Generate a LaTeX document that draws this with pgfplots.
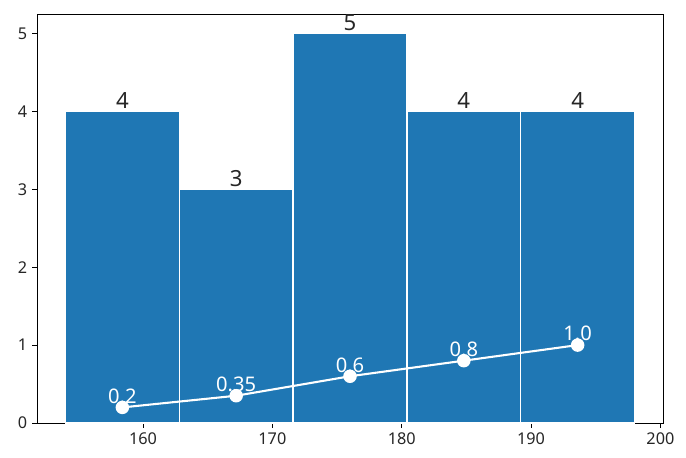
\documentclass[border=0pt]{standalone}
\usepackage{fontspec}
\setmainfont{Noto Sans}
\usepackage{pgfplots}
\pgfplotsset{compat=1.18}
\usetikzlibrary{calc}
\definecolor{mplblue}{HTML}{1F77B4}
\begin{document}
\begin{tikzpicture}
\begin{axis}[
  width=450.72pt, height=294.48pt, scale only axis,
  xmin=151.8, xmax=200.2, ymin=0, ymax=5.25,
  xtick={160,170,180,190,200}, ytick={0,1,2,3,4,5},
  tick align=outside, tick pos=left,
  major tick length=3.5pt,
  every tick/.style={black, line width=0.6pt},
  axis line style={black, line width=0.6pt},
  /pgf/number format/assume math mode=true,
  ticklabel style={font=\fontsize{11.7}{13}\selectfont, text=black!85},
  clip=false,
]
\addplot[ybar interval, fill=mplblue, draw=white, line width=0.9pt]
  coordinates {(154,4) (162.8,3) (171.6,5) (180.4,4) (189.2,4) (198,4)};
\addplot[draw=none, mark=none, nodes near coords,
  point meta=explicit symbolic,
  every node near coord/.style={anchor=south, inner sep=1pt, yshift=1pt, font=\fontsize{16}{18}\selectfont, text=black!85}]
  coordinates {(158.4,4) [4] (167.2,3) [3] (176,5) [5] (184.8,4) [4] (193.6,4) [4]};
\addplot[white, line width=1.5pt, mark=*, mark size=4.1pt, mark options={fill=white, draw=white},
  nodes near coords, point meta=explicit symbolic,
  every node near coord/.style={anchor=south, inner sep=0pt, yshift=2pt, font=\fontsize{14.5}{16}\selectfont, text=white}]
  coordinates {(158.4,0.2) [0.2] (167.2,0.35) [0.35] (176,0.6) [0.6] (184.8,0.8) [0.8] (193.6,1.0) [1.0]};
\end{axis}
\pgfresetboundingbox
\path[use as bounding box] ($(current axis.south west)+(-26.64pt,-25.2pt)$) rectangle ($(current axis.north east)+(16.56pt,10.08pt)$);
\end{tikzpicture}
\end{document}
